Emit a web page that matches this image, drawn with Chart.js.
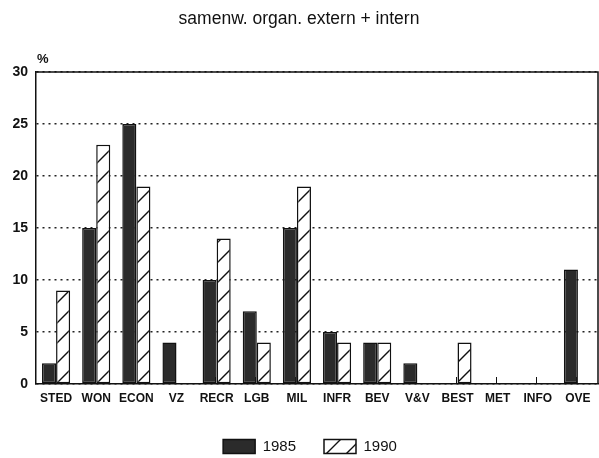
<!DOCTYPE html>
<html>
<head>
<meta charset="utf-8">
<script src="https://cdn.jsdelivr.net/npm/chart.js@4"></script>
<style>
    body { margin: 0; background: #fff; }
    canvas { display: block; }
</style>
</head>
<body>
<canvas id="chart" width="599" height="458"></canvas>
<script>
const categories = ['STED', 'WON', 'ECON', 'VZ', 'RECR', 'LGB', 'MIL', 'INFR', 'BEV', 'V&V', 'BEST', 'MET', 'INFO', 'OVE'];
const values1985 = [2, 15, 25, 4, 10, 7, 15, 5, 4, 2, 0, 0, 0, 11];
const values1990 = [9, 23, 19, 0, 14, 4, 19, 4, 4, 0, 4, 0, 0, 0];
const yMin = 0;
const yMax = 30;
const yStep = 5;

Chart.defaults.font.family = "'Liberation Sans', Arial, sans-serif";
Chart.defaults.color = '#111';

// diagonal hatch for the 1990 bars
const makeHatch = () => {
    const size = 20;
    const c = document.createElement('canvas');
    c.width = size;
    c.height = size;
    const g = c.getContext('2d');
    g.fillStyle = '#fff';
    g.fillRect(0, 0, size, size);
    g.strokeStyle = '#111';
    g.lineWidth = 1.4;
    g.beginPath();
    g.moveTo(0, size); g.lineTo(size, 0);
    g.moveTo(-2, 2); g.lineTo(2, -2);
    g.moveTo(size - 2, size + 2); g.lineTo(size + 2, size - 2);
    g.stroke();
    return g.createPattern(c, 'repeat');
};
const hatch = makeHatch();

// frame on top/right, "%" label, small category ticks, legend nudge
const framePlugin = {
    id: 'frame',
    afterLayout(chart) {
        // legend in the original sits a bit right of centre
        chart.legend.left += 11;
        chart.legend.right += 11;
    },
    beforeDatasetsDraw(chart) {
        const { ctx, chartArea } = chart;
        const x = chart.scales.x;
        ctx.save();
        ctx.strokeStyle = '#111';
        ctx.lineWidth = 1;
        categories.forEach((_, i) => {
            const px = Math.floor(x.getPixelForValue(i)) - 0.5;
            ctx.beginPath();
            ctx.moveTo(px, chartArea.bottom);
            ctx.lineTo(px, chartArea.bottom - 7);
            ctx.stroke();
        });
        ctx.restore();
    },
    afterDraw(chart) {
        const { ctx, chartArea } = chart;
        ctx.save();
        ctx.strokeStyle = '#111';
        ctx.lineWidth = 1.5;
        ctx.beginPath();
        ctx.moveTo(chartArea.left, chartArea.top);
        ctx.lineTo(chartArea.right, chartArea.top);
        ctx.lineTo(chartArea.right, chartArea.bottom);
        ctx.stroke();
        ctx.fillStyle = '#111';
        ctx.font = "bold 13px 'Liberation Sans', Arial, sans-serif";
        ctx.textAlign = 'left';
        ctx.textBaseline = 'alphabetic';
        ctx.fillText('%', chartArea.left + 1, chartArea.top - 9);
        ctx.restore();
    }
};

new Chart(document.getElementById('chart'), {
    type: 'bar',
    data: {
        labels: categories,
        datasets: [{
            label: '1985',
            data: values1985,
            backgroundColor: '#2b2b2b',
            borderColor: '#111',
            borderWidth: 1.5,
            borderSkipped: false
        }, {
            label: '1990',
            data: values1990,
            backgroundColor: hatch,
            borderColor: '#111',
            borderWidth: 1.5,
            borderSkipped: false
        }]
    },
    options: {
        responsive: false,
        animation: false,
        layout: { padding: { left: 0, right: 1, top: 0, bottom: -6 } },
        datasets: {
            bar: { categoryPercentage: 0.7, barPercentage: 1 }
        },
        plugins: {
            tooltip: { enabled: false },
            title: {
                display: true,
                text: 'samenw. organ. extern + intern',
                font: { size: 17.5, weight: 'normal' },
                color: '#111',
                padding: { top: 9, bottom: 42 }
            },
            legend: {
                position: 'bottom',
                labels: {
                    boxWidth: 32,
                    boxHeight: 14,
                    padding: 28,
                    font: { size: 15 }
                }
            }
        },
        scales: {
            x: {
                afterFit: (scale) => { scale.height = 27; },
                grid: { drawOnChartArea: false, drawTicks: false },
                border: { color: '#111', width: 1.5 },
                ticks: {
                    padding: 7,
                    maxRotation: 0,
                    minRotation: 0,
                    autoSkip: false,
                    font: { size: 12, weight: 'bold' },
                    color: '#111'
                }
            },
            y: {
                min: yMin,
                max: yMax,
                afterFit: (scale) => { scale.width = 36; },
                grid: { color: '#222', lineWidth: 1.5, drawTicks: false },
                border: { color: '#111', width: 1.5, dash: [2, 4] },
                ticks: { stepSize: yStep, padding: 8, font: { size: 14, weight: 'bold' }, color: '#111' }
            }
        }
    },
    plugins: [framePlugin]
});
</script>
</body>
</html>
